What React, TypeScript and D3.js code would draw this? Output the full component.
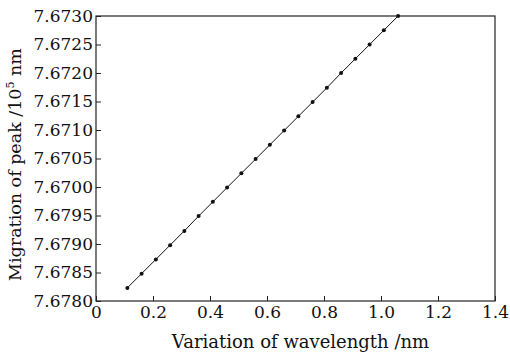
import React, { useEffect, useRef } from "react";
import * as d3 from "d3";

// wavelength variation (nm)
const xValues = [0.11, 0.16, 0.21, 0.26, 0.31, 0.36, 0.41, 0.46, 0.51, 0.56, 0.61, 0.66, 0.71, 0.76, 0.81, 0.86, 0.91, 0.96, 1.01, 1.06];
// peak migration (10^5 nm)
const yValues = [7.67823, 7.67848, 7.67873, 7.67898, 7.67923, 7.67949, 7.67974, 7.67999, 7.68024, 7.68049, 7.68074, 7.68099, 7.68124, 7.68149, 7.68174, 7.682, 7.68225, 7.6825, 7.68275, 7.683];
const xTicks = [0, 0.2, 0.4, 0.6, 0.8, 1.0, 1.2, 1.4];
const yTicks = [7.678, 7.6785, 7.679, 7.6795, 7.68, 7.6805, 7.681, 7.6815, 7.682, 7.6825, 7.683];
// labels as printed in the figure
const yTickLabels = ["7.6780", "7.6785", "7.6790", "7.6795", "7.6700", "7.6705", "7.6710", "7.6715", "7.6720", "7.6725", "7.6730"];

const App: React.FC = () => {
  const svgRef = useRef<SVGSVGElement | null>(null);

  useEffect(() => {
    const svg = d3.select(svgRef.current);
    svg.selectAll("*").remove();

    const w = 510;
    const h = 355;
    const m = { top: 16, right: 15, bottom: 54, left: 96 };
    const font = "'DejaVu Serif', serif";

    const x = d3.scaleLinear().domain([0, 1.4]).range([m.left, w - m.right]);
    const y = d3.scaleLinear().domain([7.678, 7.683]).range([h - m.bottom, m.top]);

    svg.attr("width", w).attr("height", h).style("background", "#fff");

    // frame
    svg.append("rect")
      .attr("x", m.left)
      .attr("y", m.top)
      .attr("width", w - m.right - m.left)
      .attr("height", h - m.bottom - m.top)
      .attr("fill", "none")
      .attr("stroke", "#222")
      .attr("stroke-width", 1.2);

    // x axis
    const gx = svg.append("g")
      .attr("transform", `translate(0, ${h - m.bottom})`)
      .call(d3.axisBottom(x).tickValues(xTicks).tickSizeInner(-5).tickSizeOuter(0).tickPadding(5)
        .tickFormat((d) => (d === 0 ? "0" : d3.format(".1f")(d as number))));
    gx.select(".domain").remove();
    gx.selectAll("line").attr("stroke", "#222");
    gx.selectAll("text").style("font-family", font).style("font-size", "17px").attr("fill", "#111");

    // y axis
    const gy = svg.append("g")
      .attr("transform", `translate(${m.left}, 0)`)
      .call(d3.axisLeft(y).tickValues(yTicks).tickSizeInner(-5).tickSizeOuter(0).tickPadding(3)
        .tickFormat((_, i) => yTickLabels[i]));
    gy.select(".domain").remove();
    gy.selectAll("line").attr("stroke", "#222");
    gy.selectAll("text").style("font-family", font).style("font-size", "17px").attr("fill", "#111");

    // axis titles
    svg.append("text")
      .attr("x", (m.left + w - m.right) / 2 + 5)
      .attr("y", h - 7)
      .attr("text-anchor", "middle")
      .style("font-family", font)
      .style("font-size", "18px")
      .attr("fill", "#111")
      .text("Variation of wavelength /nm");

    const yt = svg.append("text")
      .attr("transform", `translate(21, ${(m.top + h - m.bottom) / 2 + 6}) rotate(-90)`)
      .attr("text-anchor", "middle")
      .style("font-family", font)
      .style("font-size", "17.5px")
      .attr("fill", "#111");
    yt.append("tspan").text("Migration of peak /10");
    yt.append("tspan").attr("dy", -7).style("font-size", "11px").text("5");
    yt.append("tspan").attr("dy", 7).text(" nm");

    const data = xValues.map((d, i) => ({ x: d, y: yValues[i] }));

    svg.append("path")
      .datum(data)
      .attr("fill", "none")
      .attr("stroke", "#111")
      .attr("stroke-width", 1)
      .attr("d", d3.line<{ x: number; y: number }>().x((d) => x(d.x)).y((d) => y(d.y)));

    svg.selectAll("circle.pt")
      .data(data)
      .enter()
      .append("circle")
      .attr("class", "pt")
      .attr("cx", (d) => x(d.x))
      .attr("cy", (d) => y(d.y))
      .attr("r", 2)
      .attr("fill", "#111");
  }, []);

  return (
    <div style={{ position: "absolute", left: 0, top: 0 }}>
      <svg ref={svgRef}></svg>
    </div>
  );
};

export default App;
